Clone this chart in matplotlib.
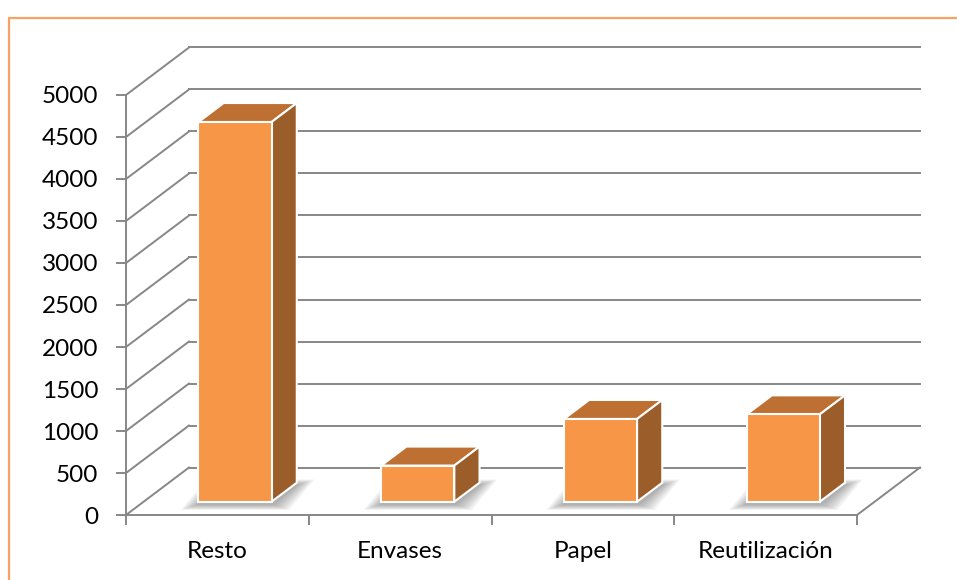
import matplotlib
matplotlib.use("Agg")
import matplotlib.pyplot as plt
from matplotlib.patches import Polygon
from matplotlib.lines import Line2D
import numpy as np

plt.rcParams['font.family'] = ['Lato', 'DejaVu Sans']

categories = ["Resto", "Envases", "Papel", "Reutilización"]
values = [4520, 430, 985, 1040]
yticks = list(range(0, 5001, 500))

W, H = 957, 580
fig = plt.figure(figsize=(W / 100, H / 100), dpi=100)
fig.patch.set_facecolor("white")

# front plane of the 3D box in pixels
L, R, T, B = 126, 857, 95, 515
ax = fig.add_axes([L / W, (H - B) / H, (R - L) / W, (B - T) / H])
n = len(categories)
ax.set_xlim(0, n)
ax.set_ylim(0, 5000)
ax.set_facecolor("none")

grid_c = "#878787"
# depth offset in data units
DX = 63 / ((R - L) / n)
DY = 47.5 / ((B - T) / 5000)

for s in ["top", "right"]:
    ax.spines[s].set_visible(False)
for s in ["left", "bottom"]:
    ax.spines[s].set_color(grid_c)
    ax.spines[s].set_linewidth(1.4)

ax.set_yticks(yticks)
ax.set_yticklabels([str(t) for t in yticks])
ax.tick_params(axis="y", length=7, width=1.4, color=grid_c, labelsize=17.5,
               pad=13, labelcolor="#000000")
ax.set_xticks(np.arange(n + 1))
ax.set_xticklabels([])
ax.set_xticks(np.arange(n) + 0.5, minor=True)
ax.set_xticklabels(categories, minor=True)
ax.tick_params(axis="x", which="major", length=7, width=1.4, color=grid_c)
ax.tick_params(axis="x", which="minor", length=0, labelsize=17.5, pad=19,
               labelcolor="#000000")

# walls and floor
for v in yticks:
    ax.add_line(Line2D([0, DX], [v, v + DY], color=grid_c, lw=1.4,
                       clip_on=False, zorder=1))
    ax.add_line(Line2D([DX, n + DX], [v + DY, v + DY], color=grid_c, lw=1.4,
                       clip_on=False, zorder=1))
ax.add_line(Line2D([n, n + DX], [0, DY], color=grid_c, lw=1.4,
                   clip_on=False, zorder=1))

# bars
d0, d1 = 0.28, 0.68
dd = d1 - d0
w = 0.4
front_c, top_c, side_c = "#F79646", "#BE7033", "#9B5D2A"
for i, v in enumerate(values):
    x0 = i + 0.5 - w / 2 + d0 * DX
    yb = d0 * DY
    # soft shadow on floor
    for k in range(8):
        e = 0.012 * (8 - k)
        ey = e * 700
        sx = 0.0
        sy = -30
        pts = [(x0 - e + sx, yb - ey + sy), (x0 + w + e + sx, yb - ey + sy),
               (x0 + w + dd * DX + e + sx, yb + dd * DY + ey + sy),
               (x0 + dd * DX - e + sx, yb + dd * DY + ey + sy)]
        ax.add_patch(Polygon(pts, closed=True, facecolor="#555555", alpha=0.07,
                             edgecolor="none", clip_on=False, zorder=2))
    ax.bar(i + 0.5 + d0 * DX, v, width=w, bottom=yb, color=front_c,
           edgecolor="white", linewidth=1.5, clip_on=False, zorder=4)
    top = [(x0, yb + v), (x0 + w, yb + v),
           (x0 + w + dd * DX, yb + v + dd * DY), (x0 + dd * DX, yb + v + dd * DY)]
    ax.add_patch(Polygon(top, closed=True, facecolor=top_c, edgecolor="white",
                         linewidth=1.5, clip_on=False, zorder=3.5))
    side = [(x0 + w, yb), (x0 + w + dd * DX, yb + dd * DY),
            (x0 + w + dd * DX, yb + v + dd * DY), (x0 + w, yb + v)]
    ax.add_patch(Polygon(side, closed=True, facecolor=side_c, edgecolor="white",
                         linewidth=1.5, clip_on=False, zorder=3.5))

# outer orange frame (only left and top visible)
bx, by = 9 / W, 1 - 18 / H
fig.add_artist(Line2D([bx, bx, 1.0], [0.0, by, by], transform=fig.transFigure,
                      color="#F7A266", lw=1.6))

fig.savefig("out.png", dpi=100, facecolor="white")
